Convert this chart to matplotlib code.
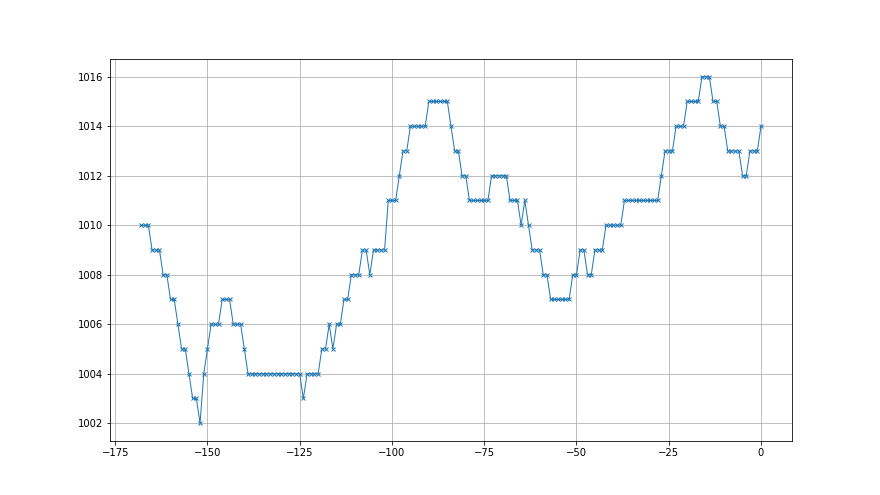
import numpy as np
import matplotlib
matplotlib.use("Agg")
import matplotlib.pyplot as plt

# hours before now, one reading per hour
hours = np.arange(-168, 1)

# pressure readings (hPa)
pressure = [
    1010, 1010, 1010,
    1009, 1009, 1009,
    1008, 1008,
    1007, 1007,
    1006,
    1005, 1005,
    1004,
    1003, 1003,
    1002,
    1004,
    1005,
    1006, 1006, 1006,
    1007, 1007, 1007,
    1006, 1006, 1006,
    1005,
    1004, 1004, 1004, 1004, 1004, 1004, 1004, 1004, 1004, 1004, 1004, 1004, 1004, 1004, 1004,
    1003,
    1004, 1004, 1004, 1004,
    1005, 1005,
    1006,
    1005,
    1006, 1006,
    1007, 1007,
    1008, 1008, 1008,
    1009, 1009,
    1008,
    1009, 1009, 1009, 1009,
    1011, 1011, 1011,
    1012,
    1013, 1013,
    1014, 1014, 1014, 1014, 1014,
    1015, 1015, 1015, 1015, 1015, 1015,
    1014,
    1013, 1013,
    1012, 1012,
    1011, 1011, 1011, 1011, 1011, 1011,
    1012, 1012, 1012, 1012, 1012,
    1011, 1011, 1011,
    1010,
    1011,
    1010,
    1009, 1009, 1009,
    1008, 1008,
    1007, 1007, 1007, 1007, 1007, 1007,
    1008, 1008,
    1009, 1009,
    1008, 1008,
    1009, 1009, 1009,
    1010, 1010, 1010, 1010, 1010,
    1011, 1011, 1011, 1011, 1011, 1011, 1011, 1011, 1011, 1011,
    1012,
    1013, 1013, 1013,
    1014, 1014, 1014,
    1015, 1015, 1015, 1015,
    1016, 1016, 1016,
    1015, 1015,
    1014, 1014,
    1013, 1013, 1013, 1013,
    1012, 1012,
    1013, 1013, 1013,
    1014,
]

fig, ax = plt.subplots(figsize=(880 / 72, 495 / 72), dpi=72)
ax.plot(hours, pressure, marker="x", markersize=4.5, color="tab:blue", linewidth=1)
ax.grid(True)

fig.savefig("out.png", dpi=72)
